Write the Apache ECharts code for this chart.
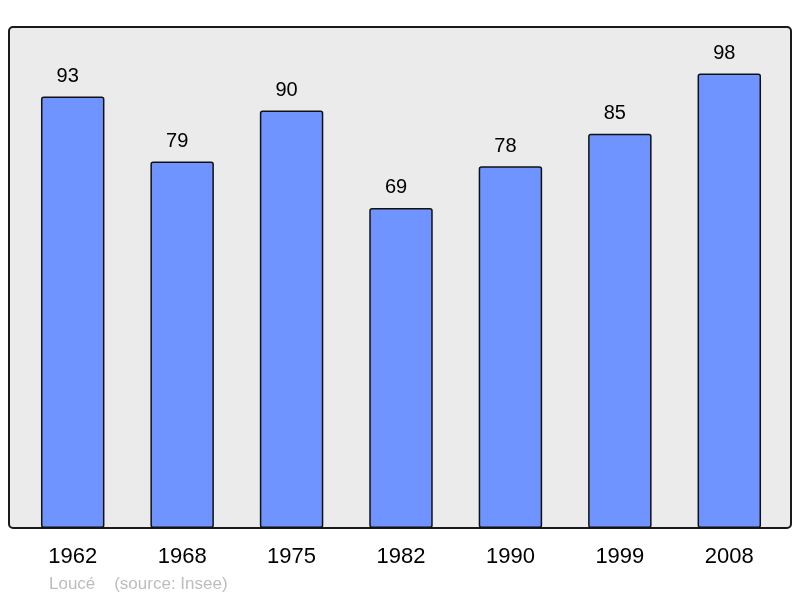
<!DOCTYPE html>
<html>
<head>
<meta charset="utf-8">
<title>Loucé</title>
<script src="https://cdn.jsdelivr.net/npm/echarts@6/dist/echarts.min.js"></script>
<style>
  html, body { margin: 0; padding: 0; background: #fff; }
</style>
</head>
<body>
<div id="main" style="width: 800px; height: 598px;"></div>
<script type="text/javascript">
var years = ['1962', '1968', '1975', '1982', '1990', '1999', '2008'];
var population = [93, 79, 90, 69, 78, 85, 98];

var myChart = echarts.init(document.getElementById('main'));

var option = {
    animation: false,
    textStyle: { fontFamily: 'Liberation Sans, Arial, sans-serif' },
    graphic: [
        {
            type: 'rect',
            z: -1,
            shape: { x: 9, y: 27, width: 782, height: 501, r: 4 },
            style: { fill: '#ebebeb', stroke: '#1a1a1a', lineWidth: 2 }
        },
        {
            type: 'text',
            left: 49,
            top: 576,
            style: {
                text: 'Loucé    (source: Insee)',
                fill: '#bdbdbd',
                font: '17px Liberation Sans, Arial, sans-serif'
            }
        }
    ],
    grid: { left: 18, right: 16, top: 27, bottom: 70 },
    xAxis: {
        type: 'category',
        data: years,
        axisLine: { show: false },
        axisTick: { show: false },
        axisLabel: { color: '#000', fontSize: 22, margin: 18 }
    },
    yAxis: {
        type: 'value',
        min: 0,
        max: 108,
        show: false,
        splitLine: { show: false }
    },
    series: [
        {
            type: 'bar',
            data: population,
            barWidth: '58%',
            itemStyle: {
                color: '#7094ff',
                borderColor: '#111',
                borderWidth: 1.5,
                borderRadius: 2
            },
            label: {
                show: true,
                position: 'top',
                distance: 10,
                offset: [-5, 0],
                color: '#000',
                fontSize: 20
            }
        }
    ]
};

myChart.setOption(option);
</script>
</body>
</html>
